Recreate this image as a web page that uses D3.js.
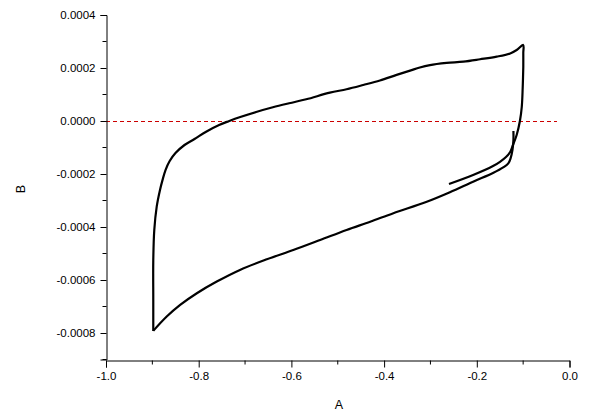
<!DOCTYPE html>
<html><head><meta charset="utf-8">
<script src="https://cdn.jsdelivr.net/npm/d3@7"></script>
<style>
body{margin:0;background:#fff;}
svg{display:block;}
text{font-family:"Liberation Sans",Arial,sans-serif;fill:#000;}
</style></head><body>
<svg id="c" width="591" height="414"></svg>
<script>
// Data: potential A, current B
const xValues = [
 -0.260,-0.208,-0.165,-0.150,-0.137,-0.128,-0.122,-0.114,-0.107,-0.103,-0.101,-0.0997,-0.0997,-0.100,
 -0.114,-0.128,-0.157,-0.193,-0.229,-0.265,-0.301,-0.323,-0.344,-0.373,-0.409,-0.445,-0.481,-0.517,
 -0.568,-0.605,-0.640,-0.676,-0.712,-0.734,-0.756,-0.784,-0.809,-0.8306,-0.8501,-0.8626,-0.8716,-0.8781,
 -0.8835,-0.8906,-0.8958,-0.898,-0.898,-0.898,
 -0.869,-0.840,-0.804,-0.761,-0.711,-0.653,-0.596,-0.538,-0.481,-0.430,-0.380,-0.308,-0.258,-0.208,
 -0.164,-0.143,-0.132,-0.127,-0.123,-0.121,-0.121
];
const yValues = [
 -0.000238,-0.000204,-0.000170,-0.000154,-0.000136,-0.000117,-0.0000906,-0.0000528,0,0.0000528,0.0001245,0.000204,0.000257,0.000287,
 0.000268,0.000255,0.000243,0.000233,0.000224,0.000219,0.000211,0.000202,0.000190,0.000174,0.000153,0.000136,0.000120,0.000107,
 0.0000819,0.0000668,0.0000517,0.0000340,0.0000140,0,-0.0000151,-0.0000404,-0.0000679,-0.0000906,-0.000121,-0.000151,-0.000185,-0.000223,
 -0.000260,-0.000323,-0.000411,-0.000525,-0.000675,-0.000792,
 -0.000738,-0.000694,-0.000650,-0.000606,-0.000562,-0.000522,-0.000487,-0.000449,-0.000411,-0.000380,-0.000348,-0.000305,-0.000269,-0.000229,
 -0.000195,-0.000175,-0.000160,-0.000140,-0.000109,-0.0000717,-0.0000377
];
const xTicks = [-1.0,-0.8,-0.6,-0.4,-0.2,0.0];
const xMinor = [-0.9,-0.7,-0.5,-0.3,-0.1];
const yTicks = [-0.0008,-0.0006,-0.0004,-0.0002,0.0,0.0002,0.0004];
const yMinor = [-0.0009,-0.0007,-0.0005,-0.0003,-0.0001,0.0001,0.0003];
const xLabel = "A", yLabel = "B";

const svg = d3.select("#c");
const x = d3.scaleLinear().domain([-1,0]).range([106,569.5]);
const y = d3.scaleLinear().domain([-0.0009,0.0004]).range([359.5,15]);

// zero reference line
svg.append("line")
  .attr("x1", x(-1)).attr("x2", x(-0.027))
  .attr("y1", Math.round(y(0))+0.5).attr("y2", Math.round(y(0))+0.5)
  .attr("stroke","#cc0000").attr("stroke-width",1).attr("stroke-dasharray","4,3");

const pts = xValues.map((v,i)=>[v,yValues[i]]);
// split the sweep at its two turning corners so corners stay sharp
let iTop = d3.maxIndex(pts, d=>d[0]);
let iBot = d3.minIndex(pts.slice(iTop), d=>d[1]) + iTop;
const segments = [pts.slice(0,iTop+1), pts.slice(iTop,iBot+1), pts.slice(iBot)];
const line = d3.line().x(d=>x(d[0])).y(d=>y(d[1])).curve(d3.curveCatmullRom.alpha(0.5));
svg.append("g").selectAll("path").data(segments).join("path")
  .attr("fill","none").attr("stroke","#000").attr("stroke-width",2.2)
  .attr("stroke-linejoin","round").attr("stroke-linecap","butt")
  .attr("d", line);

const fmtY = d => d3.format(".4f")(d).replace("\u2212","-");
const fmtX = d => d3.format(".1f")(d).replace("\u2212","-");

const gx = svg.append("g").attr("transform",`translate(0,${Math.round(y(-0.0009))+0.5})`)
  .call(d3.axisBottom(x).tickValues(xTicks).tickFormat(fmtX).tickSize(7).tickPadding(4));
gx.append("g").selectAll("line").data(xMinor).join("line")
  .attr("x1",d=>x(d)).attr("x2",d=>x(d)).attr("y1",0).attr("y2",4).attr("stroke","#000");
const gy = svg.append("g").attr("transform",`translate(${Math.round(x(-1))+0.5},0)`)
  .call(d3.axisLeft(y).tickValues(yTicks).tickFormat(fmtY).tickSize(6).tickPadding(5));
gy.append("g").selectAll("line").data(yMinor).join("line")
  .attr("y1",d=>y(d)).attr("y2",d=>y(d)).attr("x1",0).attr("x2",-4).attr("stroke","#000");

[gx,gy].forEach(g=>{
  g.select(".domain").attr("stroke","#000");
  g.selectAll(".tick line").attr("stroke","#000");
  g.selectAll("text").attr("font-size","11.5px").attr("font-family","'Liberation Sans',Arial,sans-serif").attr("fill","#000");
});

svg.append("text").attr("x",339).attr("y",409).attr("text-anchor","middle")
  .attr("font-size","12.5px").text(xLabel);
svg.append("text").attr("transform","translate(25,189) rotate(-90)").attr("text-anchor","middle")
  .attr("font-size","12.5px").text(yLabel);
</script></body></html>
